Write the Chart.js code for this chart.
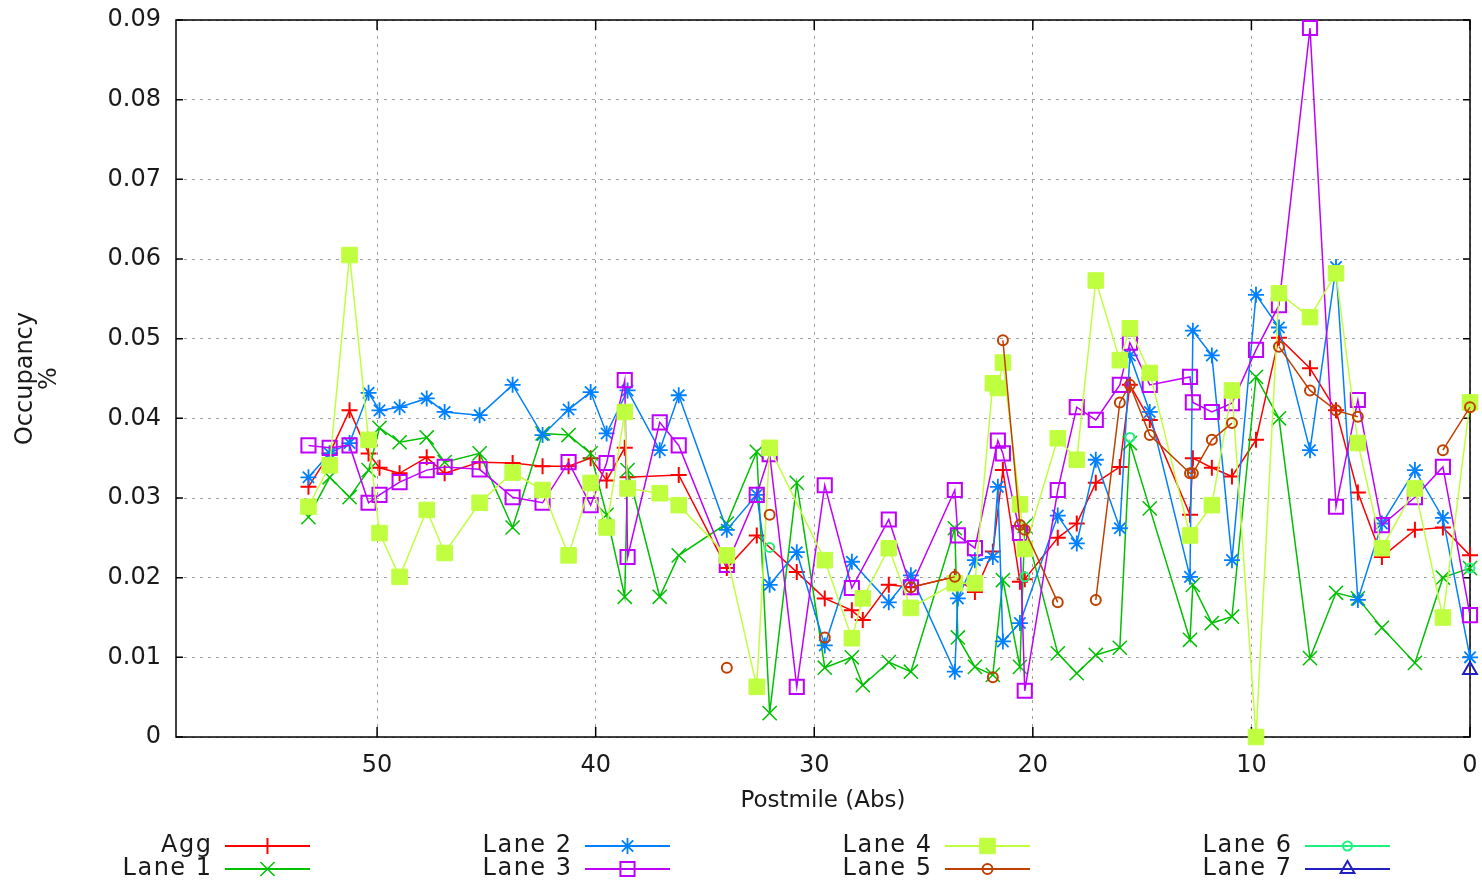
<!DOCTYPE html>
<html>
<head>
<meta charset="utf-8">
<title>Occupancy by postmile</title>
<script src="https://cdn.jsdelivr.net/npm/chart.js@4.4.0/dist/chart.umd.min.js"></script>
<style>
    html, body { margin: 0; padding: 0; background: #fff; }
    #wrap { width: 1482px; height: 883px; }
</style>
</head>
<body>
<div id="wrap"><canvas id="occChart" width="1482" height="883"></canvas></div>
<script>
// Detector stations (postmile, abs) shared by every series
const postmile = [
    53.14, 52.17, 51.26, 50.39, 49.89, 48.97, 47.73, 46.91, 45.31, 43.80,
    42.43, 41.24, 40.23, 39.50, 38.67, 38.54, 37.07, 36.20, 34.00, 32.63,
    32.04, 30.80, 29.52, 28.28, 27.78, 26.59, 25.58, 23.57, 23.43, 22.65,
    21.83, 21.60, 21.37, 20.59, 20.37, 18.86, 17.99, 17.12, 16.02, 15.56,
    14.65, 12.81, 12.68, 11.81, 10.89, 9.79, 8.74, 7.32, 6.13, 5.13,
    4.03, 2.52, 1.24, 0.00
];

const agg = [
    0.0314, 0.0356, 0.0410, 0.0356, 0.0338, 0.0331, 0.0351, 0.0331, 0.0345, 0.0344,
    0.0340, 0.0340, 0.0350, 0.0322, 0.0363, 0.0326, null, 0.0329, 0.0212, 0.0253,
    null, 0.0207, 0.0174, 0.0159, 0.0147, 0.0191, 0.0188, 0.0201, null, 0.0182,
    0.0233, null, 0.0335, 0.0195, 0.0198, 0.0250, 0.0268, 0.0319, 0.0339, 0.0442,
    0.0398, 0.0279, 0.0350, 0.0338, 0.0327, 0.0373, 0.0501, 0.0463, 0.0410, 0.0307,
    0.0226, 0.0260, 0.0263, 0.0228
];
const lane1 = [
    0.0276, 0.0326, 0.0301, 0.0335, 0.0388, 0.0370, 0.0376, 0.0345, 0.0356, 0.0263,
    0.0381, 0.0379, 0.0356, 0.0279, 0.0176, 0.0335, 0.0176, 0.0228, 0.0268, 0.0358,
    0.0030, 0.0319, 0.0087, 0.0100, 0.0065, 0.0094, 0.0082, 0.0262, 0.0125, 0.0088,
    0.0078, null, 0.0197, 0.0088, 0.0265, 0.0105, 0.0080, 0.0103, 0.0112, 0.0369,
    0.0287, 0.0122, 0.0191, 0.0143, 0.0151, 0.0452, 0.0400, 0.0099, 0.0181, 0.0174,
    0.0137, 0.0093, 0.0200, 0.0212
];
const lane2 = [
    0.0326, 0.0356, 0.0369, 0.0432, 0.0410, 0.0414, 0.0425, 0.0408, 0.0404, 0.0442,
    0.0379, 0.0411, 0.0433, 0.0381, null, 0.0435, 0.0360, 0.0429, 0.0260, 0.0304,
    0.0191, 0.0232, 0.0115, 0.0220, null, 0.0169, 0.0203, 0.0082, 0.0174, 0.0222,
    0.0226, 0.0314, 0.0120, 0.0143, null, 0.0278, 0.0243, 0.0348, 0.0262, 0.0479,
    0.0408, 0.0201, 0.0510, 0.0479, 0.0222, 0.0555, 0.0514, 0.0360, 0.0590, 0.0172,
    0.0268, 0.0335, 0.0275, 0.0100
];
const lane3 = [
    0.0366, 0.0363, 0.0366, 0.0294, 0.0304, 0.0320, 0.0335, 0.0339, 0.0336, 0.0301,
    0.0294, 0.0345, 0.0291, 0.0344, 0.0448, 0.0226, 0.0395, 0.0366, 0.0216, 0.0304,
    0.0355, 0.0063, 0.0316, 0.0187, null, 0.0273, 0.0188, 0.0310, 0.0253, 0.0237,
    null, 0.0372, 0.0356, 0.0256, 0.0058, 0.0310, 0.0414, 0.0398, 0.0442, 0.0495,
    0.0442, 0.0452, 0.0420, 0.0408, 0.0419, 0.0486, 0.0542, 0.0890, 0.0289, 0.0423,
    0.0266, 0.0301, 0.0339, 0.0153
];
const lane4 = [
    0.0289, 0.0341, 0.0605, 0.0373, 0.0256, 0.0201, 0.0285, 0.0231, 0.0294, 0.0332,
    0.0310, 0.0228, 0.0319, 0.0263, 0.0408, 0.0312, 0.0306, 0.0291, 0.0228, 0.0063,
    0.0363, null, 0.0222, 0.0124, 0.0174, 0.0237, 0.0162, 0.0193, null, 0.0193,
    0.0444, 0.0438, 0.0470, 0.0292, 0.0236, 0.0375, 0.0348, 0.0573, 0.0473, 0.0513,
    0.0457, 0.0253, null, 0.0291, 0.0435, 0.0000, 0.0557, 0.0527, 0.0582, 0.0369,
    0.0237, 0.0312, 0.0150, 0.0420
];
const lane5 = [
    null, null, null, null, null, null, null, null, null, null,
    null, null, null, null, null, null, null, null, 0.0087, null,
    0.0279, null, 0.0125, null, null, null, 0.0188, 0.0201, null, null,
    0.0075, null, 0.0498, 0.0266, 0.0260, 0.0169, null, 0.0172, 0.0420, 0.0442,
    0.0379, 0.0331, 0.0331, 0.0373, 0.0394, null, 0.0490, 0.0435, 0.0410, 0.0402,
    null, null, 0.0360, 0.0414
];
const lane6 = [
    null, null, null, null, null, null, null, null, null, null,
    null, null, null, null, null, null, null, null, null, null,
    0.0238, null, null, null, null, null, null, null, null, null,
    null, null, null, null, 0.0201, null, null, null, null, 0.0376,
    null, null, null, null, null, null, null, null, null, null,
    null, null, null, 0.0212
];
const lane7 = [
    null, null, null, null, null, null, null, null, null, null,
    null, null, null, null, null, null, null, null, null, null,
    null, null, null, null, null, null, null, null, null, null,
    null, null, null, null, null, null, null, null, null, null,
    null, null, null, null, null, null, null, null, null, null,
    null, null, null, 0.0084
];

const seriesNames = ['Agg', 'Lane 1', 'Lane 2', 'Lane 3', 'Lane 4', 'Lane 5', 'Lane 6', 'Lane 7'];
const seriesValues = [agg, lane1, lane2, lane3, lane4, lane5, lane6, lane7];
const xTicks = [0, 10, 20, 30, 40, 50];
const yTicks = [0, 0.01, 0.02, 0.03, 0.04, 0.05, 0.06, 0.07, 0.08, 0.09];
const yTickLabels = ['0', '0.01', '0.02', '0.03', '0.04', '0.05', '0.06', '0.07', '0.08', '0.09'];

// gnuplot-like look for each series
const styles = [
    { color: '#ff0000', point: 'cross',    radius: 8,  fill: '#ff0000', bw: 2,   gaps: true },
    { color: '#00c000', point: 'crossRot', radius: 10, fill: '#00c000', bw: 1.5, gaps: true },
    { color: '#0080ff', point: 'star',     radius: 8,  fill: '#0080ff', bw: 1.8, gaps: true },
    { color: '#c000ff', point: 'rect',     radius: 10, fill: 'rgba(0,0,0,0)', bw: 2, gaps: true },
    { color: '#c0ff40', point: 'rect',     radius: 11, fill: '#c0ff40', bw: 1,   gaps: true },
    { color: '#c04000', point: 'circle',   radius: 5,  fill: 'rgba(0,0,0,0)', bw: 2, gaps: false },
    { color: '#20f080', point: 'circle',   radius: 4.5, fill: 'rgba(0,0,0,0)', bw: 2, gaps: false },
    { color: '#2020c0', point: 'triangle', radius: 8,  fill: 'rgba(0,0,0,0)', bw: 2, gaps: false }
];

const datasets = seriesNames.map((name, i) => ({
    label: name,
    data: postmile.map((pm, j) => ({ x: pm, y: seriesValues[i][j] })),
    borderColor: styles[i].color,
    backgroundColor: styles[i].color,
    borderWidth: 1.5,
    pointStyle: styles[i].point,
    pointRadius: styles[i].radius,
    pointBackgroundColor: styles[i].fill,
    pointBorderColor: styles[i].color,
    pointBorderWidth: styles[i].bw,
    spanGaps: styles[i].gaps,
    tension: 0,
    clip: false,
    order: seriesNames.length - i
}));

// border and inward tick marks, like gnuplot
const frame = {
    id: 'frame',
    beforeDatasetsDraw(chart) {
        const { ctx, chartArea: a, scales: { x, y } } = chart;
        ctx.save();
        ctx.strokeStyle = '#000';
        ctx.lineWidth = 1.5;
        ctx.strokeRect(a.left, a.top, a.right - a.left, a.bottom - a.top);
        ctx.beginPath();
        yTicks.forEach(v => {
            const py = y.getPixelForValue(v);
            ctx.moveTo(a.left, py); ctx.lineTo(a.left + 7, py);
            ctx.moveTo(a.right, py); ctx.lineTo(a.right - 7, py);
        });
        xTicks.forEach(v => {
            const px = x.getPixelForValue(v);
            ctx.moveTo(px, a.bottom); ctx.lineTo(px, a.bottom - 10);
            ctx.moveTo(px, a.top); ctx.lineTo(px, a.top + 10);
        });
        ctx.stroke();
        ctx.restore();
    }
};

// bottom key: 4 columns, 2 rows, label then line sample
const keyBox = {
    id: 'keyBox',
    afterDraw(chart) {
        const ctx = chart.ctx;
        const colTextRight = [211, 571, 931, 1291];
        const rowY = [846, 869];
        ctx.save();
        ctx.font = '24px "DejaVu Sans"';
        ctx.letterSpacing = '1.5px';
        ctx.textAlign = 'right';
        ctx.textBaseline = 'middle';
        chart.data.datasets.forEach((ds, i) => {
            const col = Math.floor(i / 2);
            const row = i % 2;
            const tx = colTextRight[col];
            const ty = rowY[row];
            ctx.fillStyle = '#1a1a1a';
            ctx.fillText(ds.label, tx + 1.5, ty);
            const x0 = tx + 14, x1 = tx + 99;
            ctx.strokeStyle = ds.borderColor;
            ctx.lineWidth = 2;
            ctx.beginPath();
            ctx.moveTo(x0, ty);
            ctx.lineTo(x1, ty);
            ctx.stroke();
            ctx.fillStyle = ds.pointBackgroundColor;
            ctx.strokeStyle = ds.pointBorderColor;
            ctx.lineWidth = ds.pointBorderWidth;
            Chart.helpers.drawPoint(ctx, {
                pointStyle: ds.pointStyle,
                radius: ds.pointRadius,
                rotation: 0,
                borderWidth: ds.pointBorderWidth
            }, (x0 + x1) / 2, ty);
        });
        ctx.restore();
    }
};

Chart.defaults.font.family = '"DejaVu Sans", sans-serif';
Chart.defaults.font.size = 24;
Chart.defaults.color = '#1a1a1a';

new Chart(document.getElementById('occChart').getContext('2d'), {
    type: 'line',
    data: { datasets: datasets },
    options: {
        responsive: false,
        animation: false,
        events: [],
        layout: { padding: { left: 0, right: 12, top: 20, bottom: 68 } },
        plugins: {
            legend: { display: false },
            tooltip: { enabled: false }
        },
        scales: {
            x: {
                type: 'linear',
                reverse: true,
                min: 0,
                max: 59.2,
                afterBuildTicks: scale => { scale.ticks = xTicks.map(v => ({ value: v })); },
                afterFit: scale => { scale.height = 78; },
                ticks: { padding: 14, callback: v => String(v) },
                grid: { color: '#a0a0a0', lineWidth: 1, drawTicks: false },
                border: { display: false, dash: [3, 5] },
                title: {
                    display: true,
                    text: 'Postmile (Abs)',
                    font: { size: 23 },
                    padding: { top: 0, bottom: 0 }
                }
            },
            y: {
                min: 0,
                max: 0.09,
                afterBuildTicks: scale => { scale.ticks = yTicks.map(v => ({ value: v })); },
                afterFit: scale => { scale.width = 176; },
                ticks: {
                    padding: 15,
                    font: { size: 24, lineHeight: 0.4 },
                    callback: (v, i) => yTickLabels[i]
                },
                grid: { color: '#a0a0a0', lineWidth: 1, drawTicks: false },
                border: { display: false, dash: [3, 5] },
                title: {
                    display: true,
                    text: ['Occupancy', '%'],
                    font: { size: 24, lineHeight: 1.0 },
                    padding: { top: 14, bottom: 0 }
                }
            }
        }
    },
    plugins: [frame, keyBox]
});
</script>
</body>
</html>
